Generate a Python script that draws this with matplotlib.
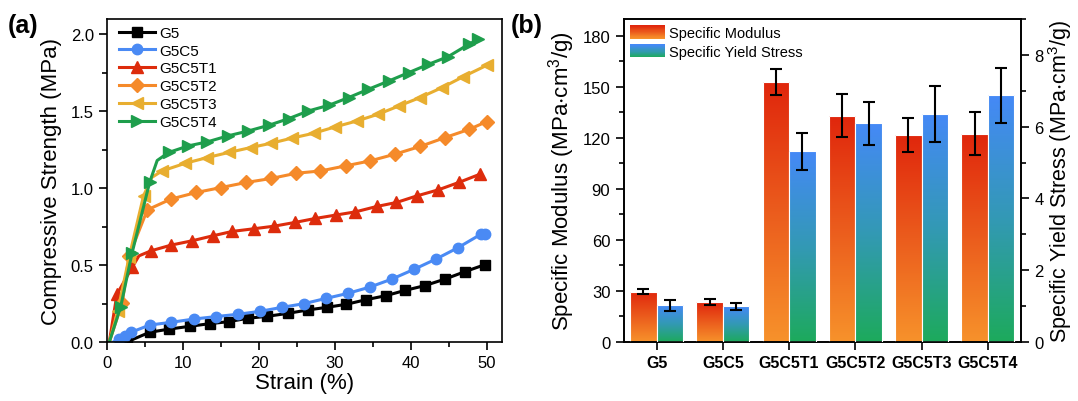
import numpy as np
import matplotlib
matplotlib.use("Agg")
import matplotlib.pyplot as plt
from matplotlib.colors import LinearSegmentedColormap
from matplotlib.patches import Rectangle
from matplotlib.legend_handler import HandlerBase
from matplotlib.ticker import MultipleLocator, FormatStrFormatter

plt.rcParams['font.family'] = ['Liberation Sans', 'DejaVu Sans']
plt.rcParams['mathtext.fontset'] = 'custom'
plt.rcParams['mathtext.rm'] = 'Liberation Sans'
plt.rcParams['mathtext.default'] = 'regular'

# ---------------- data: panel (a) ----------------
strain_G5 = [2.6, 5.6, 8.2, 10.9, 13.5, 16.0, 18.5, 21.1, 23.8, 26.4, 28.9, 31.5, 34.1, 36.7, 39.2, 41.8, 44.5, 47.1, 49.7]
stress_G5 = [0.0, 0.063, 0.084, 0.102, 0.119, 0.132, 0.154, 0.167, 0.186, 0.208, 0.225, 0.245, 0.275, 0.301, 0.335, 0.366, 0.409, 0.457, 0.502]

strain_G5C5 = [0.8, 1.6, 2.3, 3.1, 5.6, 8.45, 11.4, 14.3, 17.2, 20.1, 23.0, 25.9, 28.8, 31.7, 34.6, 37.5, 40.4, 43.3, 46.2, 49.2, 49.7]
stress_G5C5 = [0.0, 0.02, 0.04, 0.062, 0.110, 0.128, 0.149, 0.165, 0.180, 0.199, 0.225, 0.249, 0.283, 0.316, 0.357, 0.409, 0.472, 0.539, 0.613, 0.700, 0.700]

strain_T1 = [0.3, 1.3, 3.3, 4.2, 5.8, 8.45, 11.2, 13.9, 16.5, 19.3, 22.0, 24.7, 27.4, 30.1, 32.7, 35.5, 38.1, 40.8, 43.6, 46.3, 49.1]
stress_T1 = [0.0, 0.31, 0.485, 0.56, 0.593, 0.630, 0.658, 0.690, 0.719, 0.736, 0.753, 0.777, 0.803, 0.825, 0.846, 0.881, 0.907, 0.950, 0.989, 1.037, 1.091]

strain_T2 = [0.3, 2.0, 2.9, 5.3, 8.4, 11.75, 15.0, 18.3, 21.6, 24.9, 28.1, 31.4, 34.6, 37.9, 41.2, 44.5, 47.7, 50.0]
stress_T2 = [0.0, 0.256, 0.56, 0.859, 0.929, 0.972, 1.004, 1.037, 1.063, 1.097, 1.112, 1.145, 1.177, 1.221, 1.271, 1.329, 1.383, 1.433]

strain_T3 = [0.3, 1.4, 2.9, 4.8, 5.9, 7.24, 10.3, 13.2, 16.0, 18.9, 21.6, 24.3, 27.2, 30.0, 32.9, 35.7, 38.4, 41.2, 44.1, 46.9, 50.0]
stress_T3 = [0.0, 0.2, 0.55, 0.95, 1.07, 1.112, 1.162, 1.199, 1.232, 1.264, 1.292, 1.325, 1.357, 1.398, 1.437, 1.481, 1.534, 1.589, 1.654, 1.725, 1.799]

strain_T4 = [0.3, 1.8, 3.3, 5.6, 6.6, 8.1, 10.7, 13.2, 15.9, 18.6, 21.3, 23.9, 26.5, 29.2, 31.8, 34.4, 37.1, 39.7, 42.3, 44.9, 47.6, 48.9]
stress_T4 = [0.0, 0.23, 0.58, 1.037, 1.18, 1.232, 1.275, 1.301, 1.340, 1.372, 1.409, 1.452, 1.502, 1.539, 1.589, 1.643, 1.697, 1.751, 1.805, 1.855, 1.935, 1.968]

# ---------------- data: panel (b) ----------------
samples = ['G5', 'G5C5', 'G5C5T1', 'G5C5T2', 'G5C5T3', 'G5C5T4']
spec_modulus = [29.6, 23.4, 153.0, 133.1, 122.0, 122.5]
spec_modulus_err = [1.4, 1.7, 7.7, 12.5, 10.0, 12.7]
spec_yield = [1.02, 1.00, 5.31, 6.09, 6.36, 6.87]
spec_yield_err = [0.15, 0.10, 0.52, 0.60, 0.78, 0.77]

# ---------------- figure ----------------
fig = plt.figure(figsize=(10.78, 4.02), dpi=100)
axA = fig.add_axes([0.0993, 0.1468, 0.3664, 0.8035])
axB = fig.add_axes([0.5784, 0.1468, 0.3687, 0.8035])

LABEL_FS = 16
def style_axis(ax):
    for s in ax.spines.values():
        s.set_linewidth(1.2)
    ax.tick_params(which='major', direction='out', length=6, width=1.2, labelsize=12)
    ax.tick_params(which='minor', direction='out', length=3.5, width=1.2)

# ----- panel (a)
series = [
    (strain_G5, stress_G5, 'G5', 'black', 's', None),
    (strain_G5C5, stress_G5C5, 'G5C5', '#4A8AF4', 'o', None),
    (strain_T1, stress_T1, 'G5C5T1', '#DD2C0C', '^', [3]),
    (strain_T2, stress_T2, 'G5C5T2', '#F58A2A', 'D', None),
    (strain_T3, stress_T3, 'G5C5T3', '#E8AE30', '<', [4]),
    (strain_T4, stress_T4, 'G5C5T4', '#1E9E4C', '>', [4]),
]
msizes = {'s': 7, 'o': 7.5, 'D': 6.8, '^': 8.5, '<': 8.5, '>': 8.5}
for xs, ys, lab, col, mk, skip in series:
    n = len(xs)
    skip = set(skip or [])
    if ys[0] == 0.0 and lab != 'G5':
        skip.add(0)
    me = [i for i in range(n) if i not in skip]
    axA.plot(xs, ys, color=col, lw=2.2, marker=mk, ms=msizes[mk], markevery=me, label=lab)

axA.set_xlim(0, 52)
axA.set_ylim(0, 2.1)
axA.xaxis.set_major_locator(MultipleLocator(10))
axA.xaxis.set_minor_locator(MultipleLocator(5))
axA.yaxis.set_major_locator(MultipleLocator(0.5))
axA.yaxis.set_minor_locator(MultipleLocator(0.25))
axA.yaxis.set_major_formatter(FormatStrFormatter('%.1f'))
style_axis(axA)
axA.set_xlabel('Strain (%)', fontsize=LABEL_FS, labelpad=1)
axA.set_ylabel('Compressive Strength (MPa)', fontsize=LABEL_FS, labelpad=6)
axA.legend(loc='upper left', frameon=False, fontsize=11, handlelength=2.4,
           labelspacing=0.25, handletextpad=0.25, borderaxespad=0.3,
           borderpad=0.15, bbox_to_anchor=(0.012, 1.0))

# ----- panel (b)
x = np.arange(len(samples))
w = 0.4
red_cmap = LinearSegmentedColormap.from_list('rg', ['#F7922B', '#EB5C1D', '#E0260C'])
blue_cmap = LinearSegmentedColormap.from_list('bg', ['#1DAA5C', '#3399B5', '#4589F7'])
grad = np.linspace(0, 1, 256).reshape(-1, 1)

axB2 = axB.twinx()

def gradient_bars(ax, xpos, heights, cmap):
    bars = ax.bar(xpos, heights, w, facecolor='none', edgecolor='#FFFFFF', lw=0.8, zorder=3)
    for b in bars:
        x0, y0 = b.get_x(), b.get_y()
        im = ax.imshow(grad, extent=[x0, x0 + b.get_width(), y0, y0 + b.get_height()],
                       origin='lower', cmap=cmap, aspect='auto', zorder=2)
        im.set_clip_path(b)
    return bars

gradient_bars(axB, x - w / 2, spec_modulus, red_cmap)
axB.errorbar(x - w / 2, spec_modulus, yerr=spec_modulus_err, fmt='none', ecolor='black',
             elinewidth=1.5, capsize=4.5, capthick=1.5, zorder=5)
gradient_bars(axB2, x + w / 2, spec_yield, blue_cmap)
axB2.errorbar(x + w / 2, spec_yield, yerr=spec_yield_err, fmt='none', ecolor='black',
              elinewidth=1.5, capsize=4.5, capthick=1.5, zorder=5)

axB.set_xlim(-0.5, 5.5)
axB2.set_xlim(-0.5, 5.5)
axB.set_ylim(0, 190)
axB2.set_ylim(0, 9)
axB.set_xticks(x)
axB.set_xticklabels(samples, fontweight='bold', fontsize=11.5)
axB.yaxis.set_major_locator(MultipleLocator(30))
axB.yaxis.set_minor_locator(MultipleLocator(15))
axB2.yaxis.set_major_locator(MultipleLocator(2))
axB2.yaxis.set_minor_locator(MultipleLocator(1))
style_axis(axB)
style_axis(axB2)
axB.tick_params(axis='x', labelsize=11.5)
axB.set_ylabel('Specific Modulus (MPa$\\cdot$cm$^3$/g)', fontsize=LABEL_FS, labelpad=4)
axB2.set_ylabel('Specific Yield Stress (MPa$\\cdot$cm$^3$/g)', fontsize=15.5, labelpad=2)

class GradHandler(HandlerBase):
    def __init__(self, cmap):
        super().__init__()
        self.cmap = cmap
    def create_artists(self, legend, orig_handle, xdescent, ydescent, width, height, fontsize, trans):
        arts = []
        n = 24
        for i in range(n):
            r = Rectangle((-xdescent, -ydescent + i * height / n), width, height / n + 0.05,
                          facecolor=self.cmap(i / (n - 1)), edgecolor='none', transform=trans)
            arts.append(r)
        return arts

h1 = Rectangle((0, 0), 1, 1)
h2 = Rectangle((0, 0), 1, 1)
axB2.legend([h1, h2], ['Specific Modulus', 'Specific Yield Stress'],
            handler_map={h1: GradHandler(red_cmap), h2: GradHandler(blue_cmap)},
            loc='upper left', frameon=False, fontsize=10.5, handlelength=2.4,
            handleheight=1.0, labelspacing=0.3, handletextpad=0.3,
            borderaxespad=0.3, borderpad=0.15)

fig.text(0.007, 0.935, '(a)', fontsize=18, fontweight='bold', va='center', ha='left')
fig.text(0.474, 0.935, '(b)', fontsize=18, fontweight='bold', va='center', ha='left')

fig.savefig('out.png', dpi=100)
